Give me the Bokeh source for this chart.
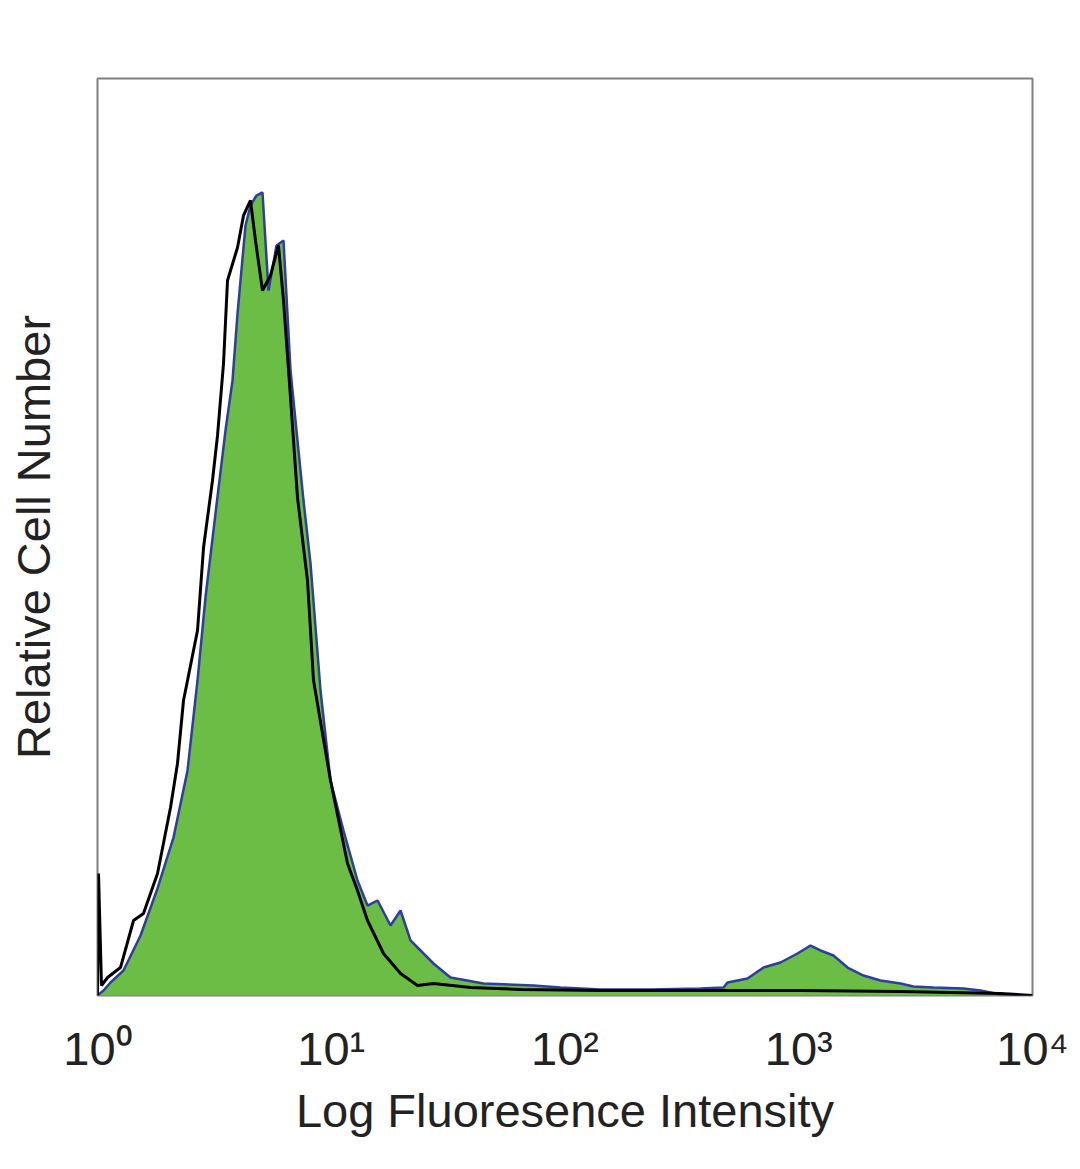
from bokeh.plotting import figure
from bokeh.models import Range1d, FixedTicker
from bokeh.embed import file_html
from bokeh.resources import INLINE

# Stained sample (green filled histogram)
stain_x = [1.0, 1.061, 1.137, 1.292, 1.528, 1.806, 2.114, 2.427, 2.678, 2.897,
           3.197, 3.528, 3.781, 3.972, 4.297, 4.513, 4.788, 5.080, 5.390, 5.833,
           6.248, 6.694, 7.171, 7.608, 8.152, 8.995, 9.926, 11.28, 12.95, 14.29,
           15.78, 17.93, 19.79, 21.83, 27.38, 32.37, 44.81, 73.32, 95.65, 141.9,
           232.2, 379.8, 476.7, 495.8, 603.6, 706.8, 835.4, 987.8, 1123, 1239,
           1408, 1617, 1892, 2237, 2725, 3097, 3772, 5068, 5991, 7299, 10000]
stain_y = [0.0, 0.55, 1.42, 2.73, 6.54, 11.67, 17.23, 24.54, 34.35, 43.40,
           52.56, 61.61, 67.07, 74.37, 83.97, 86.15, 87.24, 87.57, 76.88, 81.79,
           82.33, 68.16, 60.52, 53.98, 47.11, 33.26, 23.45, 17.99, 12.54, 9.81,
           10.36, 7.63, 9.27, 6.00, 3.49, 1.96, 1.31, 1.09, 0.87, 0.65,
           0.65, 0.76, 0.87, 1.42, 1.85, 3.05, 3.60, 4.58, 5.45, 4.91,
           4.36, 3.05, 2.18, 1.64, 1.31, 0.98, 0.87, 0.76, 0.55, 0.11, 0.0]

# Isotype control (black outline histogram)
ctrl_x = [1.0, 1.01, 1.040, 1.104, 1.254, 1.426, 1.573, 1.806, 2.053, 2.199,
          2.333, 2.427, 2.678, 2.842, 3.104, 3.262, 3.460, 3.599, 3.972, 4.214,
          4.513, 4.741, 5.080, 5.496, 5.947, 6.248, 6.694, 7.171, 7.914, 8.398,
          9.926, 11.74, 12.95, 14.29, 16.73, 19.79, 23.39, 27.38, 39.43, 64.50,
          141.9, 379.8, 1017, 2725, 7299, 10000]
ctrl_y = [0.0, 13.30, 1.09, 1.96, 3.05, 8.18, 8.94, 13.30, 20.50, 25.30,
          32.17, 34.35, 39.80, 48.85, 56.16, 61.07, 68.92, 77.97, 81.57, 85.06,
          86.70, 82.33, 76.88, 78.52, 81.79, 75.79, 65.21, 54.31, 45.26, 34.35,
          23.45, 14.39, 11.45, 8.18, 4.58, 2.40, 1.09, 1.31, 0.87, 0.65,
          0.55, 0.55, 0.55, 0.44, 0.22, 0.0]

tick_values = [1, 10, 100, 1000, 10000]
tick_labels = ["10\u2070", "10\u00b9", "10\u00b2", "10\u00b3", "10\u2074"]

FONT = "Liberation Sans"

p = figure(width=1072, height=1158, x_axis_type="log",
           x_range=Range1d(1, 10000), y_range=Range1d(0, 100),
           output_backend="svg", toolbar_location=None,
           min_border_left=97, min_border_right=40,
           min_border_top=78, min_border_bottom=163)

p.varea(x=stain_x, y1=[0] * len(stain_x), y2=stain_y, fill_color="#6cbd45")
p.line(stain_x, stain_y, line_color="#2f3d9e", line_width=2.5)
p.line(ctrl_x, ctrl_y, line_color="#000000", line_width=3)

p.grid.visible = False
p.outline_line_color = "#808080"
p.outline_line_width = 2
p.background_fill_color = "white"
p.border_fill_color = "white"

xa = p.xaxis[0]
xa.ticker = FixedTicker(ticks=tick_values)
xa.major_label_overrides = dict(zip(tick_values, tick_labels))
xa.axis_line_color = None
xa.major_tick_line_color = None
xa.minor_tick_line_color = None
xa.major_tick_out = 0
xa.major_tick_in = 0
xa.minor_tick_out = 0
xa.minor_tick_in = 0
xa.major_label_standoff = 26
xa.major_label_text_font = FONT
xa.major_label_text_font_size = "47px"
xa.major_label_text_color = "#222222"
xa.axis_label = "Log Fluoresence Intensity"
xa.axis_label_text_font = FONT
xa.axis_label_text_font_style = "normal"
xa.axis_label_text_font_size = "47px"
xa.axis_label_text_color = "#222222"
xa.axis_label_standoff = 6

ya = p.yaxis[0]
ya.ticker = FixedTicker(ticks=[])
ya.axis_line_color = None
ya.major_tick_line_color = None
ya.minor_tick_line_color = None
ya.major_tick_out = 0
ya.major_tick_in = 0
ya.minor_tick_out = 0
ya.minor_tick_in = 0
ya.major_label_standoff = 0
ya.axis_label = "Relative Cell Number"
ya.axis_label_text_font = FONT
ya.axis_label_text_font_style = "normal"
ya.axis_label_text_font_size = "47px"
ya.axis_label_text_color = "#222222"
ya.axis_label_standoff = 38

open("out.html", "w").write(file_html(p, INLINE))
